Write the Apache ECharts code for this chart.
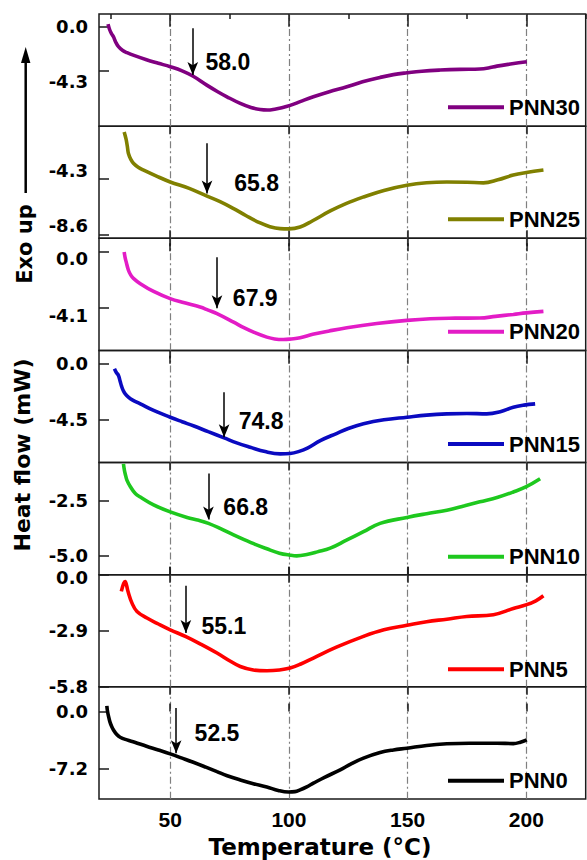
<!DOCTYPE html>
<html><head><meta charset="utf-8">
<script src="https://cdn.jsdelivr.net/npm/echarts@6/dist/echarts.min.js"></script>
<style>html,body{margin:0;padding:0;background:#fff}#c{width:587px;height:860px}</style>
</head><body><div id="c"></div>
<script>
const seriesNames = ['PNN30','PNN25','PNN20','PNN15','PNN10','PNN5','PNN0'];
const colors = ['#800080','#808000','#E31CC6','#0A0AC0','#1EC81E','#FF0000','#000000'];
const xTicks = [50,100,150,200];
const yTickValues = [[0,-4.3],[-4.3,-8.6],[0,-4.1],[0,-4.5],[-2.5,-5.0],[0,-2.9,-5.8],[0,-7.2]];
const yRanges = [[-9.79,1.25],[-8.83,-0.33],[-7.16,0.94],[-7.93,1.07],[-5.86,-0.75],[-5.8,0.0],[-10.97,3.1]];

const pnn30 = [[23.8,0.25],[24.5,-0.3],[25.2,-0.65],[26.1,-0.99],[27,-1.5],[28.2,-1.97],[30,-2.35],[31.8,-2.56],[35,-2.85],[40,-3.25],[45,-3.6],[50,-3.94],[55,-4.35],[59.5,-4.86],[65.4,-5.75],[70,-6.4],[73.9,-6.9],[79.5,-7.55],[84,-7.95],[87.9,-8.15],[91,-8.2],[94,-8.12],[97,-7.98],[100.5,-7.75],[105,-7.35],[110.3,-6.9],[117,-6.4],[124.4,-5.92],[131,-5.42],[138.4,-4.99],[144,-4.72],[149.7,-4.54],[156,-4.38],[163.7,-4.27],[172,-4.2],[180.4,-4.17],[184,-4.07],[187.6,-3.88],[194,-3.65],[200.2,-3.45]];
const pnn25 = [[30.6,-0.77],[31.1,-1.1],[31.5,-1.4],[32,-1.95],[32.4,-2.41],[33.4,-2.85],[34.6,-3.16],[36.5,-3.45],[38.8,-3.67],[44,-4.1],[50,-4.56],[58,-5.05],[65.5,-5.64],[71,-6.05],[76.7,-6.58],[82,-7.12],[87.9,-7.67],[92,-7.95],[96.3,-8.1],[100,-8.12],[104.7,-7.98],[110,-7.5],[117.4,-6.76],[124,-6.2],[131.4,-5.7],[140,-5.2],[149.7,-4.81],[158,-4.62],[166.5,-4.56],[175,-4.58],[181.9,-4.63],[188,-4.4],[194.5,-4.04],[200,-3.85],[207.2,-3.66]];
const pnn20 = [[30.6,-0.05],[31,-0.45],[31.5,-0.8],[32.4,-1.37],[33.4,-1.72],[34.5,-1.95],[37.4,-2.34],[43,-2.9],[50,-3.42],[56,-3.72],[62.6,-4.03],[66,-4.25],[69.7,-4.5],[76.7,-5.12],[81,-5.52],[85.1,-5.84],[90.7,-6.2],[94,-6.33],[97.7,-6.37],[101,-6.33],[104.7,-6.25],[110,-6.0],[117,-5.75],[124.4,-5.52],[137,-5.22],[149.7,-4.99],[159.5,-4.87],[170,-4.83],[180.4,-4.82],[187,-4.7],[194.5,-4.56],[200,-4.45],[207.2,-4.34]];
const pnn15 = [[26.5,-0.4],[27.3,-0.7],[28.2,-0.94],[28.9,-1.4],[29.5,-1.8],[30.2,-2.15],[31.05,-2.41],[32.5,-2.7],[34,-2.9],[37.4,-3.22],[43,-3.75],[50,-4.29],[55,-4.65],[60,-5.0],[66,-5.45],[72.7,-5.95],[78,-6.35],[83.7,-6.7],[90,-7.05],[96.3,-7.23],[100.5,-7.2],[104,-7.05],[108,-6.75],[113.2,-6.17],[120,-5.6],[125,-5.2],[131.4,-4.82],[140,-4.5],[149.7,-4.29],[158,-4.12],[166.5,-4.02],[175,-3.99],[183.3,-4.02],[189,-3.85],[194.5,-3.49],[199,-3.32],[203.7,-3.22]];
const pnn10 = [[30.3,-0.81],[30.7,-1.1],[31,-1.25],[31.8,-1.56],[33.3,-1.86],[35.3,-2.16],[37.4,-2.32],[43,-2.68],[50,-3.0],[57.1,-3.25],[62,-3.38],[66.1,-3.52],[71,-3.75],[76.7,-4.05],[84,-4.4],[90.7,-4.68],[96,-4.88],[100.5,-4.97],[103.3,-5.0],[108,-4.93],[112,-4.82],[117.4,-4.65],[124,-4.3],[131.4,-3.9],[138.4,-3.52],[149.7,-3.25],[158,-3.08],[166.5,-2.92],[174,-2.72],[180.4,-2.54],[188,-2.33],[194.5,-2.09],[200,-1.85],[205.8,-1.49]];
const pnn5 = [[29.4,-0.86],[30.4,-0.45],[31.0,-0.35],[31.6,-0.55],[32.2,-0.86],[33.9,-1.47],[36,-1.9],[40.2,-2.24],[45,-2.55],[50,-2.85],[56.6,-3.2],[63,-3.6],[69.7,-4.05],[75,-4.45],[79.5,-4.75],[85,-4.93],[90.7,-4.97],[96,-4.93],[100.5,-4.83],[105,-4.62],[110.3,-4.31],[120,-3.75],[131.4,-3.19],[140,-2.85],[149.7,-2.62],[158,-2.43],[166.5,-2.3],[174.9,-2.16],[186.1,-2.07],[194.5,-1.75],[200.1,-1.55],[204,-1.35],[207.2,-1.09]];
const pnn0 = [[23.3,0.72],[23.6,0],[24.1,-0.7],[24.6,-1.3],[25.3,-1.85],[26.1,-2.31],[27.4,-2.85],[28.9,-3.22],[31.8,-3.56],[35,-3.85],[40,-4.35],[45,-4.82],[50,-5.31],[55,-5.85],[60,-6.4],[65,-6.98],[69.7,-7.54],[74,-8.05],[79.5,-8.58],[85,-9.05],[90.7,-9.46],[95.5,-9.9],[99.8,-10.1],[102.5,-10.05],[104.7,-9.83],[107.5,-9.45],[110.3,-8.99],[115,-8.25],[121.6,-7.32],[126,-6.6],[131.4,-5.85],[138.4,-5.15],[144,-4.82],[149.7,-4.6],[158,-4.25],[166.5,-4.05],[176,-3.97],[187.6,-3.97],[194.5,-4.02],[197.5,-3.85],[200.2,-3.56]];
const seriesData = [pnn30,pnn25,pnn20,pnn15,pnn10,pnn5,pnn0];

const arrowT = [59.5,65.5,69.7,72.7,66.1,56.6,52.5];
const arrowFrom = [-0.16,-1.62,-0.43,-2.28,-1.25,-0.57,0.43];
const arrowTo = [-4.76,-5.44,-4.12,-5.9,-3.34,-3.02,-5.23];
const annotText = ['58.0','65.8','67.9','74.8','66.8','55.1','52.5'];
const annotPos = [[74.3,-3.48],[86.4,-4.66],[85.8,-3.4],[88.3,-4.56],[81.8,-2.77],[72.6,-2.63],[69.7,-2.71]];

// visual vertical shift (px) of each tick label relative to its tick, as in the reference
const labelShift = [[0,11],[-8,-10],[7,7],[0,0],[0,0],[3,0,0],[0,0]];

const chart = echarts.init(document.getElementById('c'), null, {renderer:'svg'});
const N = 7, top0 = 14, ph = 112.14, L = 99, R = 1.3;
const grids = [], xAxes = [], yAxes = [], series = [], legends = [];
const legendCY = [107.3,219.3,331.7,444,556.7,669.3,780.7];
const yFont = {color:'#000', fontFamily:'DejaVu Sans', fontWeight:'bold', fontSize:18};
for (let i = 0; i < N; i++) {
  const rich = {};
  labelShift[i].forEach((s, k) => {
    rich['s' + k] = Object.assign({}, yFont, {padding: s >= 0 ? [2*s,0,0,0] : [0,0,-2*s,0]});
  });
  grids.push({left:L, right:R, top: top0 + ph*i, height: ph, show:true, borderColor:'#1a1a1a', borderWidth:1.5, backgroundColor:'transparent', containLabel:false});
  xAxes.push({type:'value', gridIndex:i, position:'bottom', min:20, max:225,
    axisLine:{show:false},
    axisTick:{show:true, inside:true, length:8, customValues:xTicks, lineStyle:{color:'#1a1a1a', width:1.5}},
    axisLabel:{show:i===N-1, customValues:xTicks, margin:10, color:'#000', fontFamily:'Liberation Sans, Arial', fontWeight:'bold', fontSize:21, lineHeight:21},
    splitLine:{show:true, lineStyle:{color:'#808080', width:1.2, type:[7,3,2,3]}}});
  xAxes.push({type:'value', gridIndex:i, position:'top', min:20, max:225,
    axisLine:{show:false},
    axisTick:{show:true, inside:true, length: i===0?5:8, customValues: i===0?[25,50,75,100,125,150,175,200,225]:xTicks, lineStyle:{color:'#1a1a1a', width:1.5}},
    axisLabel:{show:false}, splitLine:{show:false}});
  const vals = yTickValues[i];
  yAxes.push({type:'value', gridIndex:i, min:yRanges[i][0], max:yRanges[i][1],
    axisLine:{show:false},
    axisTick:{show:true, inside:true, length:10, customValues:vals, lineStyle:{color:'#1a1a1a', width:1.5}},
    axisLabel:Object.assign({show:true, customValues:vals, margin:11, rich:rich,
      formatter: v => {
        let k = vals.findIndex(t => Math.abs(t - v) < 1e-6);
        if (k < 0) k = 0;
        return '{s' + k + '|' + Number(v).toFixed(1) + '}';
      }}, yFont),
    splitLine:{show:false}});
  series.push({type:'line', name:seriesNames[i], xAxisIndex:2*i, yAxisIndex:i, data:seriesData[i],
    showSymbol:false, smooth:0.4, lineStyle:{color:colors[i], width:3.6}, itemStyle:{color:colors[i]},
    markLine:{silent:true, symbol:['none','arrow'], symbolSize:[8,13], label:{show:false},
      lineStyle:{color:'#000', width:1.5, type:'solid'},
      data:[[{coord:[arrowT[i], arrowFrom[i]]},{coord:[arrowT[i], arrowTo[i]]}]]},
    markPoint:{silent:true, symbol:'circle', symbolSize:0,
      data:[{coord:annotPos[i], label:{show:true, position:'inside', formatter:annotText[i], color:'#000', fontFamily:'Liberation Sans, Arial', fontWeight:'bold', fontSize:23}}]}
  });
  legends.push({data:[seriesNames[i]], left:448, top:legendCY[i]-11, padding:0, icon:'rect', itemWidth:56, itemHeight:4, itemGap:0,
    selectedMode:false, textStyle:{color:'#000', fontFamily:'Liberation Sans, Arial', fontWeight:'bold', fontSize:22}});
}
const option = {
  animation:false, backgroundColor:'#fff',
  grid:grids, xAxis:xAxes, yAxis:yAxes, series:series, legend:legends,
  graphic:[
    {type:'line', shape:{x1:25.7, y1:193, x2:25.7, y2:60}, style:{stroke:'#000', lineWidth:2.5}},
    {type:'polygon', shape:{points:[[25.7,47],[21,63],[30.4,63]]}, style:{fill:'#000'}},
    {type:'text', x:25, y:244, rotation:Math.PI/2, style:{text:'Exo up', fill:'#000', font:'bold 21px "DejaVu Sans"', align:'center', verticalAlign:'middle'}},
    {type:'text', x:22, y:455, rotation:Math.PI/2, style:{text:'Heat flow (mW)', fill:'#000', font:'bold 22px "DejaVu Sans"', align:'center', verticalAlign:'middle'}},
    {type:'text', x:320, y:847, style:{text:'Temperature (°C)', fill:'#000', font:'bold 23px "DejaVu Sans"', align:'center', verticalAlign:'middle'}}
  ]
};
chart.setOption(option);
</script></body></html>
